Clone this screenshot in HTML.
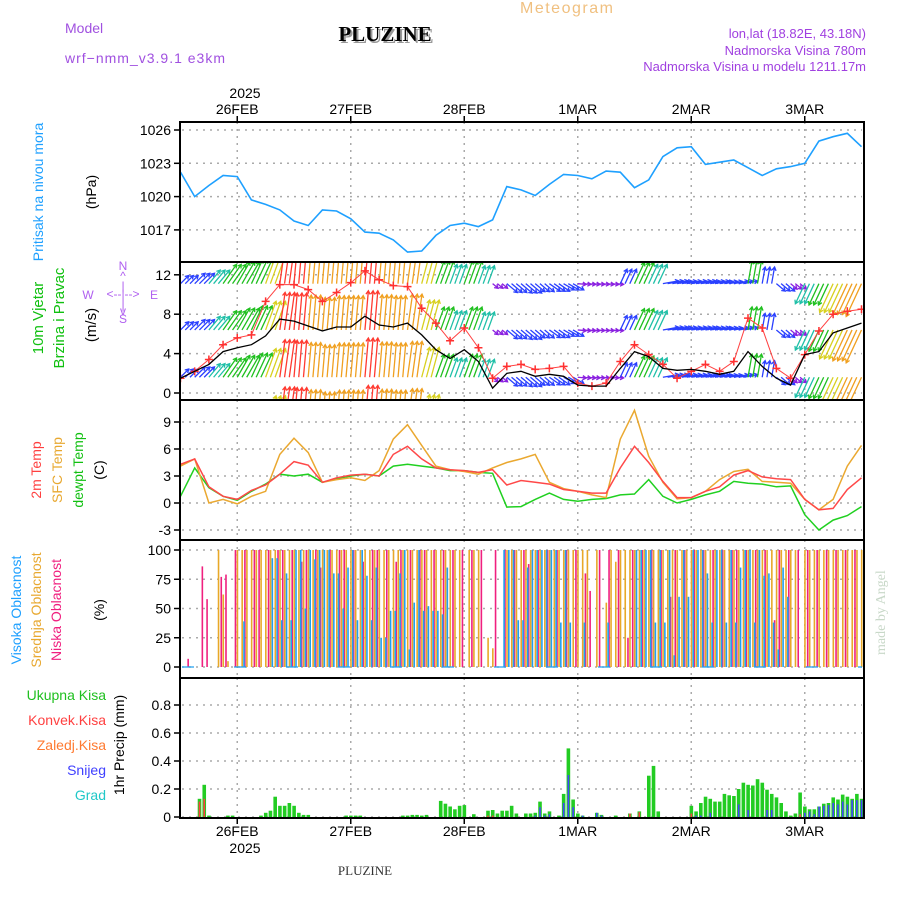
<!DOCTYPE html>
<html><head><meta charset="utf-8"><style>
body{margin:0;background:#fff;}
svg{display:block;font-family:"Liberation Sans",sans-serif;}
</style></head><body>
<svg id="chart" width="900" height="900" viewBox="0 0 900 900" xmlns="http://www.w3.org/2000/svg">
<defs>
<clipPath id="c1"><rect x="180" y="122" width="684" height="140"/></clipPath>
<clipPath id="c2"><rect x="180" y="262" width="684" height="138"/></clipPath>
<clipPath id="c3"><rect x="180" y="400" width="684" height="140"/></clipPath>
<clipPath id="c4"><rect x="180" y="540" width="684" height="138"/></clipPath>
<clipPath id="c5"><rect x="180" y="678" width="684" height="140"/></clipPath>
</defs>
<text x="65" y="33" font-size="14" fill="#a050e0">Model</text>
<text x="65" y="63" font-size="14" fill="#a050e0" letter-spacing="1">wrf−nmm_v3.9.1  e3km</text>
<text x="387" y="43" font-size="21" font-weight="bold" font-family="Liberation Serif,serif" fill="#999" text-anchor="middle">PLUZINE</text>
<text x="385" y="41" font-size="21" font-weight="bold" font-family="Liberation Serif,serif" fill="#000" text-anchor="middle">PLUZINE</text>
<text x="520" y="13" font-size="16" fill="#f0c080" letter-spacing="1.5">Meteogram</text>
<text x="866" y="38" font-size="13" fill="#a040e0" text-anchor="end">lon,lat (18.82E, 43.18N)</text>
<text x="866" y="55" font-size="13" fill="#a040e0" text-anchor="end">Nadmorska Visina 780m</text>
<text x="866" y="71" font-size="13" fill="#a040e0" text-anchor="end">Nadmorska Visina u modelu 1211.17m</text>
<text x="245" y="98" font-size="14" text-anchor="middle">2025</text>
<text x="245" y="853" font-size="14" text-anchor="middle">2025</text>
<text x="365" y="875" font-size="13" font-family="Liberation Serif,serif" fill="#333" text-anchor="middle">PLUZINE</text>
<text transform="translate(885,655) rotate(-90)" font-size="14" font-family="Liberation Serif,serif" fill="#c8d8c8">made by Angel</text>

<text transform="translate(43,192) rotate(-90)" font-size="14" fill="#1ea0ff" text-anchor="middle">Pritisak na nivou mora</text>
<text transform="translate(96,192) rotate(-90)" font-size="14" text-anchor="middle">(hPa)</text>
<text transform="translate(43,318) rotate(-90)" font-size="15" fill="#10c010" text-anchor="middle">10m Vjetar</text>
<text transform="translate(64,318) rotate(-90)" font-size="15" fill="#10c010" text-anchor="middle">Brzina i Pravac</text>
<text transform="translate(96,325) rotate(-90)" font-size="15" text-anchor="middle">(m/s)</text>
<g font-size="12" fill="#b060f0" text-anchor="middle">
<text x="123" y="270">N</text><text x="123" y="280">^</text><text x="123" y="290">|</text>
<text x="88" y="299">W</text><text x="123" y="298">&lt;--|--&gt;</text><text x="154" y="299">E</text>
<text x="123" y="309">|</text><text x="123" y="315">v</text><text x="123" y="323">S</text>
</g>
<text transform="translate(41,470) rotate(-90)" font-size="14" fill="#ff4040" text-anchor="middle">2m Temp</text>
<text transform="translate(62,470) rotate(-90)" font-size="14" fill="#e8a830" text-anchor="middle">SFC Temp</text>
<text transform="translate(83,470) rotate(-90)" font-size="14" fill="#10c010" text-anchor="middle">dewpt Temp</text>
<text transform="translate(104,470) rotate(-90)" font-size="14" text-anchor="middle">(C)</text>
<text transform="translate(21,610) rotate(-90)" font-size="14" fill="#1ea0ff" text-anchor="middle">Visoka Oblacnost</text>
<text transform="translate(41,610) rotate(-90)" font-size="14" fill="#e8a830" text-anchor="middle">Srednja Oblacnost</text>
<text transform="translate(61,610) rotate(-90)" font-size="14" fill="#f0207f" text-anchor="middle">Niska Oblacnost</text>
<text transform="translate(104,610) rotate(-90)" font-size="14" text-anchor="middle">(%)</text>
<g font-size="14" text-anchor="end">
<text x="106" y="700" fill="#20c020">Ukupna  Kisa</text>
<text x="106" y="725" fill="#ff4040">Konvek.Kisa</text>
<text x="106" y="750" fill="#ff7a30">Zaledj.Kisa</text>
<text x="106" y="775" fill="#4040ff">Snijeg</text>
<text x="106" y="800" fill="#20c8c8">Grad</text>
</g>
<text transform="translate(124,745) rotate(-90)" font-size="14" text-anchor="middle">1hr Precip (mm)</text>
<g id="plot"></g>
</svg>
<script>
const dayLabels = ["26FEB","27FEB","28FEB","1MAR","2MAR","3MAR"];
const dayHours = [12,36,60,84,108,132];
const pressTicks = [1017,1020,1023,1026];
const windTicks = [0,4,8,12];
const tempTicks = [-3,0,3,6,9];
const cloudTicks = [0,25,50,75,100];
const precipTickLabels = ["0","0.2","0.4","0.6","0.8"];
// 3-hourly series (index i => hour 3i from 25FEB 12Z)
const pressure = [1022.2,1020.0,1021.0,1021.9,1021.8,1019.7,1019.3,1018.8,1017.8,1017.4,1018.8,1018.7,1018.0,1016.8,1016.7,1016.1,1015.0,1015.1,1016.5,1017.4,1017.6,1017.3,1017.9,1020.9,1020.6,1020.1,1021.1,1022.0,1021.9,1021.6,1022.3,1022.2,1020.8,1021.5,1023.6,1024.4,1024.5,1022.9,1023.1,1023.3,1022.6,1021.9,1022.5,1022.7,1023.0,1025.0,1025.4,1025.7,1024.5];
const windSpeed = [1.5,2.2,2.9,4.2,4.6,4.9,5.8,7.5,7.3,6.8,6.3,6.7,6.7,7.8,6.9,6.7,7.1,5.9,4.4,3.5,4.4,3.2,0.5,2.0,2.2,1.7,1.9,1.7,0.8,0.7,0.7,2.5,4.2,3.7,2.5,2.3,2.4,2.2,1.9,2.2,4.2,2.7,1.5,0.8,3.9,4.2,6.1,6.6,7.1];
const windGust = [1.5,2.2,3.4,4.9,5.6,5.9,9.3,11.0,11.0,10.5,9.3,10.2,11.2,12.4,11.5,10.9,10.8,8.6,7.1,5.3,6.6,4.6,1.5,2.7,2.9,2.4,2.5,2.7,1.0,0.7,1.0,3.2,4.9,3.9,2.9,1.5,2.2,2.9,2.2,3.2,7.6,6.6,2.5,1.5,3.9,6.3,8.0,8.3,8.5];
const windDir = [45,45,40,35,30,25,20,8,5,5,5,5,5,5,5,5,8,15,20,20,20,20,130,130,130,130,125,120,95,95,95,25,25,25,80,80,80,80,80,80,10,10,130,130,205,205,205,205,205];
const temp2m = [4.3,4.9,1.8,0.75,0.4,1.4,2.0,3.2,4.6,4.2,2.3,2.8,3.1,3.2,3.0,5.4,6.3,4.9,3.9,3.7,3.6,3.4,3.7,2.0,2.5,2.3,2.1,1.5,1.3,1.1,1.1,3.9,6.3,4.5,2.4,0.6,0.6,1.3,1.8,3.1,3.6,2.9,2.7,2.6,0.4,-0.75,-0.6,1.5,2.8];
const tempSfc = [4.1,4.9,0,0.4,-0.1,0.75,1.3,5.4,7.2,5.6,2.3,2.6,2.8,2.5,3.6,7.1,8.7,6.4,4.1,3.7,3.5,3.2,3.9,4.5,4.9,5.4,2.3,1.6,1.3,0.9,0.6,7.1,10.3,5.2,2.3,0.45,0.6,1.3,2.6,3.5,3.75,2.4,2.3,2.2,0.4,-0.75,0.4,4.1,6.4];
const tempDew = [0.75,3.9,1.7,0.75,0.3,1.3,2.1,3.2,3.0,3.2,2.3,2.7,3.0,3.2,3.0,4.1,4.3,4.1,3.9,3.6,3.6,3.4,3.3,-0.45,-0.4,0.4,1.1,0.4,0.2,0.4,0.5,0.9,1.0,2.6,0.75,0,0.4,0.9,1.3,2.4,2.2,2.1,1.8,1.9,-1.3,-3.0,-1.9,-1.4,-0.4];
// hourly cloud cover (%), hour 0..144
const cloudHigh = [0,0,0,0,0,0,0,0,0,0,0,0,0,39,0,0,0,0,0,93,93,40,80,40,100,100,50,100,92,100,100,100,80,80,50,85,100,40,100,78,40,85,25,25,48,48,80,100,15,55,100,48,52,48,48,45,85,0,0,0,0,0,0,0,0,0,0,0,100,100,100,40,40,85,100,100,100,100,100,100,38,100,38,0,0,38,0,0,0,0,38,0,0,0,0,0,100,100,100,100,38,100,38,100,10,60,100,60,100,100,100,80,38,100,100,38,100,38,85,100,100,38,100,78,80,38,15,85,60,0,0,0,0,0,0,0,0,0,0,0,0,0,0,0,0];
const cloudMid = [0,0,0,0,0,0,0,0,100,62,5,0,100,100,100,100,100,100,100,100,100,100,100,100,100,100,100,100,100,100,100,100,100,100,100,100,100,100,100,100,100,100,100,100,100,100,100,100,100,100,100,100,100,100,100,100,100,100,100,100,0,100,100,100,0,25,16,0,0,100,100,100,100,100,100,100,100,100,100,100,100,100,100,100,100,100,100,0,100,0,55,100,90,100,100,100,100,100,100,100,100,100,100,100,100,100,100,100,100,100,100,100,100,100,100,100,100,100,100,100,100,100,100,100,100,100,100,100,100,100,100,0,100,100,100,100,100,100,100,100,100,100,100,100,100];
const cloudLow = [0,0,7,0,0,86,58,0,0,77,79,0,100,0,100,0,100,100,0,100,0,100,100,0,100,0,90,100,0,100,85,0,100,0,100,100,0,100,0,90,0,100,100,0,100,0,90,100,0,100,0,100,100,0,100,0,100,0,100,0,100,0,100,0,100,0,0,100,0,100,0,100,0,100,88,0,100,0,100,0,100,0,100,0,100,0,80,65,0,100,0,100,0,100,0,25,100,0,100,0,100,0,100,0,60,100,0,100,0,100,0,100,0,100,0,100,0,100,100,0,100,0,100,0,100,0,40,100,0,100,0,100,0,100,0,100,0,100,0,100,0,100,0,100,0];
// hourly precipitation
const precipHours = [4,5,6,10,11,17,18,19,20,21,22,23,24,25,26,27,35,36,37,38,47,48,49,50,51,52,55,56,57,58,59,60,62,65,66,67,68,69,70,71,73,74,75,76,77,78,80,81,82,83,84,85,88,89,92,95,97,99,100,101,108,109,110,111,112,113,114,115,116,117,118,119,120,121,122,123,124,125,126,127,128,129,130,131,132,133,134,135,136,137,138,139,140,141,142,143,144];
const precipTotal = [0.13,0.23,0.01,0.01,0.01,0.01,0.03,0.045,0.145,0.08,0.08,0.10,0.08,0.03,0.015,0.015,0.01,0.01,0.01,0.01,0.01,0.01,0.015,0.015,0.01,0.015,0.115,0.095,0.075,0.055,0.08,0.085,0.02,0.045,0.05,0.025,0.045,0.045,0.08,0.025,0.025,0.025,0.03,0.11,0.025,0.04,0.01,0.165,0.49,0.125,0.025,0.01,0.03,0.015,0.01,0.025,0.04,0.295,0.365,0.04,0.08,0.04,0.10,0.145,0.13,0.11,0.11,0.165,0.155,0.15,0.2,0.245,0.23,0.225,0.27,0.245,0.195,0.165,0.14,0.10,0.04,0.01,0.025,0.175,0.075,0.055,0.055,0.075,0.095,0.10,0.14,0.125,0.16,0.145,0.13,0.165,0.13];
const precipSnow = [0,0,0,0,0,0,0,0,0,0,0,0,0,0,0,0,0,0,0,0,0,0,0,0,0,0,0,0,0,0,0,0,0,0,0,0,0,0,0,0,0,0,0.01,0.07,0.01,0.02,0,0.1,0.3,0.07,0,0.01,0.03,0.01,0,0,0,0,0,0,0,0.01,0.01,0,0.03,0,0,0,0,0,0.09,0,0.05,0,0,0,0.05,0.05,0,0,0,0,0,0.02,0.03,0.04,0.02,0.075,0.08,0.085,0.1,0.09,0.11,0.09,0.12,0.12,0.12];
const precipConv = [0.11,0.13,0,0,0,0,0,0,0,0,0,0,0,0,0,0,0,0,0,0,0,0,0,0,0,0,0,0,0,0,0,0,0,0.01,0.01,0,0,0,0,0,0,0,0,0,0,0,0,0,0,0,0,0,0,0,0,0.025,0.035,0,0,0,0.025,0,0,0,0,0,0,0,0,0,0,0,0,0,0,0,0,0,0,0,0,0,0,0.02,0,0,0,0,0,0,0,0,0,0,0,0,0];

const X0 = 180.5, PX_PER_H = 113.5/24;
const xh = h => X0 + h*PX_PER_H;
const yP = p => 130 + (1026-p)*11.1;
const yW = v => 393 - v*9.85;
const yT = t => 503 - t*9.0;
const yC = c => 667 - c*1.17;
const yR = r => 817 - r*140;
const NS = "http://www.w3.org/2000/svg";
const plot = document.getElementById('plot');
function mk(tag, attrs, parent){ const e=document.createElementNS(NS,tag); for(const k in attrs) e.setAttribute(k,attrs[k]); (parent||plot).appendChild(e); return e; }
const panels = [[122,262],[262,400],[400,540],[540,678],[678,818]];

const grid = mk('g',{stroke:'#aaa','stroke-width':1.5,'stroke-dasharray':'2,5'});


panels.forEach(([a,b])=>dayHours.forEach(h=>{ const l=mk('line',{x1:xh(h),x2:xh(h),y1:a,y2:b},grid);   }));
function hgrid(ticks, f, tl, name){
  const g=mk('g',{});
  
  
  ticks.forEach((t,i)=>{
    const y=f(t);
    mk('line',{x1:182,x2:862,y1:y,y2:y,stroke:'#aaa','stroke-width':1.5,'stroke-dasharray':'2,5'},g);
    mk('line',{x1:174,x2:180,y1:y,y2:y,stroke:'#000','stroke-width':1.5},g);
    const tx=mk('text',{x:171,y:y+5,'font-size':14,'text-anchor':'end'},g);
    tx.textContent = tl ? tl[i] : String(t);
  });
}
hgrid(pressTicks,yP,null,'pressure-y-axis');
hgrid(windTicks,yW,null,'wind-y-axis');
hgrid(tempTicks,yT,null,'temp-y-axis');
hgrid(cloudTicks,yC,null,'cloud-y-axis');
hgrid([0,0.2,0.4,0.6,0.8],yR,precipTickLabels,'precip-y-axis');

dayHours.forEach((h,i)=>{
  const t=mk('text',{x:xh(h),y:114,'font-size':14,'text-anchor':'middle'});
  
  
  t.textContent=dayLabels[i];
  const b=mk('text',{x:xh(h),y:836,'font-size':14,'text-anchor':'middle'});
  
  
  b.textContent=dayLabels[i];
  mk('line',{x1:xh(h),x2:xh(h),y1:116,y2:122,stroke:'#000','stroke-width':1.5});
  mk('line',{x1:xh(h),x2:xh(h),y1:818,y2:824,stroke:'#000','stroke-width':1.5});
});

const pts = (arr,f)=>arr.map((v,i)=>xh(3*i).toFixed(1)+','+f(v).toFixed(1)).join(' ');
const pl=mk('polyline',{points:pts(pressure,yP),fill:'none',stroke:'#1ea0ff','stroke-width':1.6,'clip-path':'url(#c1)'});



function windColor(s){ if(s<1) return '#8a20e0'; if(s<2.8) return '#2a40ff'; if(s<4) return '#20c0a8'; if(s<5.4) return '#20c020'; if(s<6.2) return '#d8d020'; if(s<7.2) return '#f0a020'; return '#ff3a30'; }
const wg=mk('g',{'clip-path':'url(#c2)','stroke-width':1.3,fill:'none'});


const rowBases=[11.1,6.4,1.6,-3.2];
windSpeed.forEach((s,i)=>{
  const len=5+4.4*s, a=windDir[i]*Math.PI/180, c=windColor(s);
  for(let k=0;k<3;k++){
    const h=3*i+k; if(h>144) continue;
    rowBases.forEach(b=>{
      const x1=xh(h), y1=yW(b), x2=x1+len*Math.sin(a), y2=y1-len*Math.cos(a);
      const hl=3.5, ax=Math.sin(a), ay=-Math.cos(a);
      const d=`M${x1},${y1}L${x2},${y2}M${x2-hl*ax+hl*0.6*ay},${y2-hl*ay-hl*0.6*ax}L${x2},${y2}L${x2-hl*ax-hl*0.6*ay},${y2-hl*ay+hl*0.6*ax}`;
      const p=mk('path',{d:d,stroke:c},wg);
      
      
    });
  }
});
const gl=mk('polyline',{points:pts(windGust,yW),fill:'none',stroke:'#ff4040','stroke-width':1,'clip-path':'url(#c2)'});


windGust.forEach((v,i)=>{ const x=xh(3*i), y=yW(v);
  const p=mk('path',{d:`M${x-4},${y}H${x+4}M${x},${y-4}V${y+4}`,stroke:'#ff3030','stroke-width':1.5,'clip-path':'url(#c2)'});
  
  
});
const wl=mk('polyline',{points:pts(windSpeed,yW),fill:'none',stroke:'#000','stroke-width':1.3,'clip-path':'url(#c2)'});



const td=mk('polyline',{points:pts(tempDew,yT),fill:'none',stroke:'#20d020','stroke-width':1.5,'clip-path':'url(#c3)'});


const ts=mk('polyline',{points:pts(tempSfc,yT),fill:'none',stroke:'#eaa830','stroke-width':1.5,'clip-path':'url(#c3)'});


const t2=mk('polyline',{points:pts(temp2m,yT),fill:'none',stroke:'#ff4848','stroke-width':1.5,'clip-path':'url(#c3)'});



const cg=mk('g',{'clip-path':'url(#c4)','stroke-width':1.6});


cloudLow.forEach((v,h)=>{ if(v>0){ const l=mk('line',{x1:xh(h)-1.8,x2:xh(h)-1.8,y1:yC(0),y2:yC(v),stroke:'#f0207f'},cg);   }});
cloudMid.forEach((v,h)=>{ if(v>0){ const l=mk('line',{x1:xh(h)+0.2,x2:xh(h)+0.2,y1:yC(0),y2:yC(v),stroke:'#e8a828'},cg);   }});
cloudHigh.forEach((v,h)=>{ if(v>0){ const l=mk('line',{x1:xh(h)+2,x2:xh(h)+2,y1:yC(0),y2:yC(v),stroke:'#20a0f0'},cg);   }});
mk('line',{x1:182,x2:862,y1:yC(0),y2:yC(0),stroke:'#20a0f0','stroke-width':1.2,'stroke-dasharray':'12,40'},cg);

const pg=mk('g',{'clip-path':'url(#c5)'});


precipHours.forEach((h,i)=>{
  const x=xh(h)-1.7;
  const r=mk('rect',{x:x,y:yR(precipTotal[i]),width:3.6,height:yR(0)-yR(precipTotal[i]),fill:'#22cc22'},pg);
  
  
  if(precipSnow[i]>0){ const s=mk('rect',{x:x+1,y:yR(precipSnow[i]),width:1.6,height:yR(0)-yR(precipSnow[i]),fill:'#4444ff'},pg);   }
  if(precipConv[i]>0){ const c=mk('rect',{x:x+1,y:yR(precipConv[i]),width:1.6,height:yR(0)-yR(precipConv[i]),fill:'#ff4040'},pg);   }
});

panels.forEach(([a,b],i)=>{
  const r=mk('rect',{x:180,y:a,width:684,height:b-a,fill:'none',stroke:'#000','stroke-width':2});
  
  
});
</script>
</body></html>
